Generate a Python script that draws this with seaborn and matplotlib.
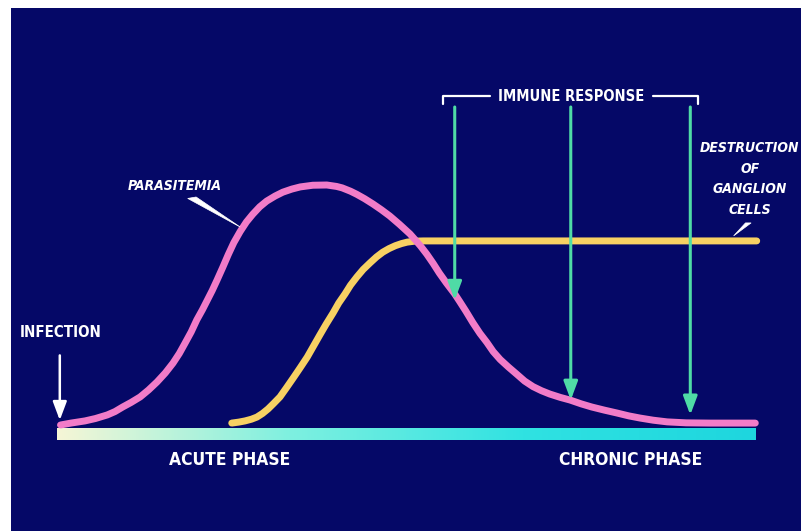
# Recreation of the Chagas disease course diagram (parasitemia vs destruction of ganglion cells)

import numpy as np
import pandas as pd
from matplotlib import pyplot as plt
from matplotlib.patches import Rectangle, Polygon
import seaborn as sb

# time axis: 0 = infection, 100 = end of bar ; level: 0 = baseline, 100 = peak parasitemia
para_time = [0.5, 2.0, 4.0, 5.5, 7.2, 8.3, 9.4, 10.6, 11.9, 13.1, 14.3, 15.5, 16.6, 17.5,
             18.3, 19.2, 20.0, 20.8, 21.5, 22.2, 22.9, 23.7, 24.5, 25.3, 26.2, 27.1, 28.0,
             29.0, 30.0, 31.2, 32.3, 33.6, 34.8, 36.6, 38.6, 40.0, 40.8, 42.0, 42.9, 44.0,
             45.2, 46.4, 47.6, 49.0, 50.5, 51.2, 52.0, 52.9, 53.8, 54.7, 55.7, 56.9, 57.6,
             58.5, 59.5, 60.5, 61.5, 62.4, 63.4, 64.6, 65.8, 66.9, 68.1, 69.3, 70.5, 72.0,
             73.4, 75.0, 76.5, 78.3, 80.1, 81.8, 83.4, 85.3, 87.3, 90.0, 93.4, 99.9]
para_level = [0, 0.8, 1.7, 2.7, 4.2, 5.6, 7.5, 9.4, 11.7, 14.6, 17.9, 21.7, 25.8, 29.8,
              34, 38.8, 43.8, 48, 52, 56, 60.4, 65.6, 71, 76, 80.6, 84.6, 87.8,
              90.9, 93.3, 95.4, 97, 98.3, 99.2, 99.9, 100, 99.4, 98.8, 97.4, 96.1, 94.3,
              92.1, 89.7, 87.1, 83.6, 79.6, 77.3, 74.6, 71.2, 67.4, 63.3, 59.2, 54.6, 51.5,
              47.4, 42.6, 38.2, 34.4, 30.6, 27.3, 24.1, 21.1, 18.3, 16.0, 14.3, 12.9, 11.5,
              10.4, 8.8, 7.5, 6.2, 5.0, 3.8, 2.9, 2.0, 1.3, 0.9, 0.8, 0.8]

gang_time = [25.0, 26.0, 26.9, 27.8, 28.6, 29.4, 30.2, 31.0, 31.9, 32.8, 33.8, 34.8, 35.8,
             36.7, 37.6, 38.5, 39.5, 40.3, 41.2, 42.0, 42.9, 43.8, 44.8, 45.7, 46.6, 47.5,
             48.4, 49.3, 50.1, 51.2, 52.4, 100.1]
gang_level = [0.8, 1.2, 1.7, 2.4, 3.3, 4.8, 6.7, 9.0, 11.7, 15.4, 19.6, 23.9, 28.3,
              32.9, 37.5, 42.0, 46.7, 50.8, 54.6, 58.3, 61.7, 64.8, 67.6, 70.0, 72.0, 73.5,
              74.7, 75.6, 76.2, 76.6, 76.7, 76.7]

# immune response arrows: time and level of the parasitemia they point at
immune_time = [56.9, 73.5, 90.6]
immune_level = [52, 10.4, 4.2]

phase_labels = ["ACUTE PHASE", "CHRONIC PHASE"]
phase_time = [24.7, 82.0]

navy = "#050867"
pink = "#f27cc8"
yellow = "#f8d163"
green = "#4fdba6"
font = ["DejaVu Sans"]

sb.set_theme(style="white")
plt.rcParams["font.stretch"] = "condensed"

fig = plt.figure(figsize=(8.07, 5.31), dpi=100, facecolor="white")
ax = fig.add_axes([0, 0, 1, 1])
ax.set_facecolor("none")
# navy slide background (white margin on the left and top)
ax.add_patch(Rectangle((11 / 807, 0), 790 / 807, 523 / 531, transform=fig.transFigure,
                       facecolor=navy, edgecolor="none", zorder=0, clip_on=False))

# baseline bar with pale-to-cyan gradient
grad = np.linspace(0, 1, 256).reshape(1, -1)
cmap = sb.blend_palette(["#f6f6d6", "#7ef0e0", "#30e2e2", "#1ed6de"], as_cmap=True)
ax.imshow(grad, cmap=cmap, aspect="auto", extent=(0, 100, -6.3, -1.3), zorder=1)

df_para = pd.DataFrame({"time": para_time, "level": para_level})
df_gang = pd.DataFrame({"time": gang_time, "level": gang_level})
sb.lineplot(data=df_gang, x="time", y="level", ax=ax, color=yellow, linewidth=5,
            solid_capstyle="round", solid_joinstyle="round", zorder=3)
sb.lineplot(data=df_para, x="time", y="level", ax=ax, color=pink, linewidth=5,
            solid_capstyle="round", solid_joinstyle="round", zorder=4)

# pixel 57..756 -> time 0..100, pixel 425..185 -> level 0..100
ax.set_xlim(-57 / 6.99, 750 / 6.99)
ax.set_ylim(-106 / 2.4, 425 / 2.4)
ax.set_axis_off()

# immune response arrows and bracket
for t, lv in zip(immune_time, immune_level):
    ax.annotate("", xy=(t, lv), xytext=(t, 132.5),
                arrowprops=dict(arrowstyle="-|>,head_length=0.8,head_width=0.3",
                                color=green, lw=2.2, mutation_scale=14,
                                shrinkA=0, shrinkB=0), zorder=5)
ax.plot([55.2, 55.2, 61.9], [133.8, 137, 137], color="white", lw=1.6, zorder=5)
ax.plot([85.2, 91.7, 91.7], [137, 137, 133.8], color="white", lw=1.6, zorder=5)
ax.text(73.5, 137, "IMMUNE RESPONSE", color="white", fontsize=10.5, fontweight="bold",
        family=font, ha="center", va="center", zorder=6)

# infection arrow
ax.annotate("", xy=(0.4, 2), xytext=(0.4, 29),
            arrowprops=dict(arrowstyle="-|>,head_length=0.8,head_width=0.3",
                            color="white", lw=1.8, mutation_scale=14,
                            shrinkA=0, shrinkB=0), zorder=5)
ax.text(-5.4, 38.5, "INFECTION", color="white", fontsize=10.8, fontweight="bold",
        family=font, ha="left", va="center")

# curve labels with tapered pointers
ax.text(16.9, 99.6, "PARASITEMIA", color="white", fontsize=10, fontweight="bold",
        style="italic", family=font, ha="center", va="center")
ax.add_patch(Polygon([(18.7, 94.4), (19.9, 95.0), (26.2, 82.5)], closed=True,
                     facecolor="white", edgecolor="white", lw=0.5, zorder=5))
ax.text(99.1, 102.5, "DESTRUCTION\nOF\nGANGLION\nCELLS", color="white", fontsize=10,
        fontweight="bold", style="italic", family=font, ha="center", va="center",
        linespacing=1.62)
ax.add_patch(Polygon([(98.5, 84.2), (99.3, 84.2), (96.8, 78.8)], closed=True,
                     facecolor="white", edgecolor="white", lw=0.5, zorder=5))

# phase labels under the bar
for lab, t in zip(phase_labels, phase_time):
    ax.text(t, -14.6, lab, color="white", fontsize=12.5, fontweight="bold",
            family=font, ha="center", va="center")

plt.savefig("out.png", dpi=100, facecolor=fig.get_facecolor())
